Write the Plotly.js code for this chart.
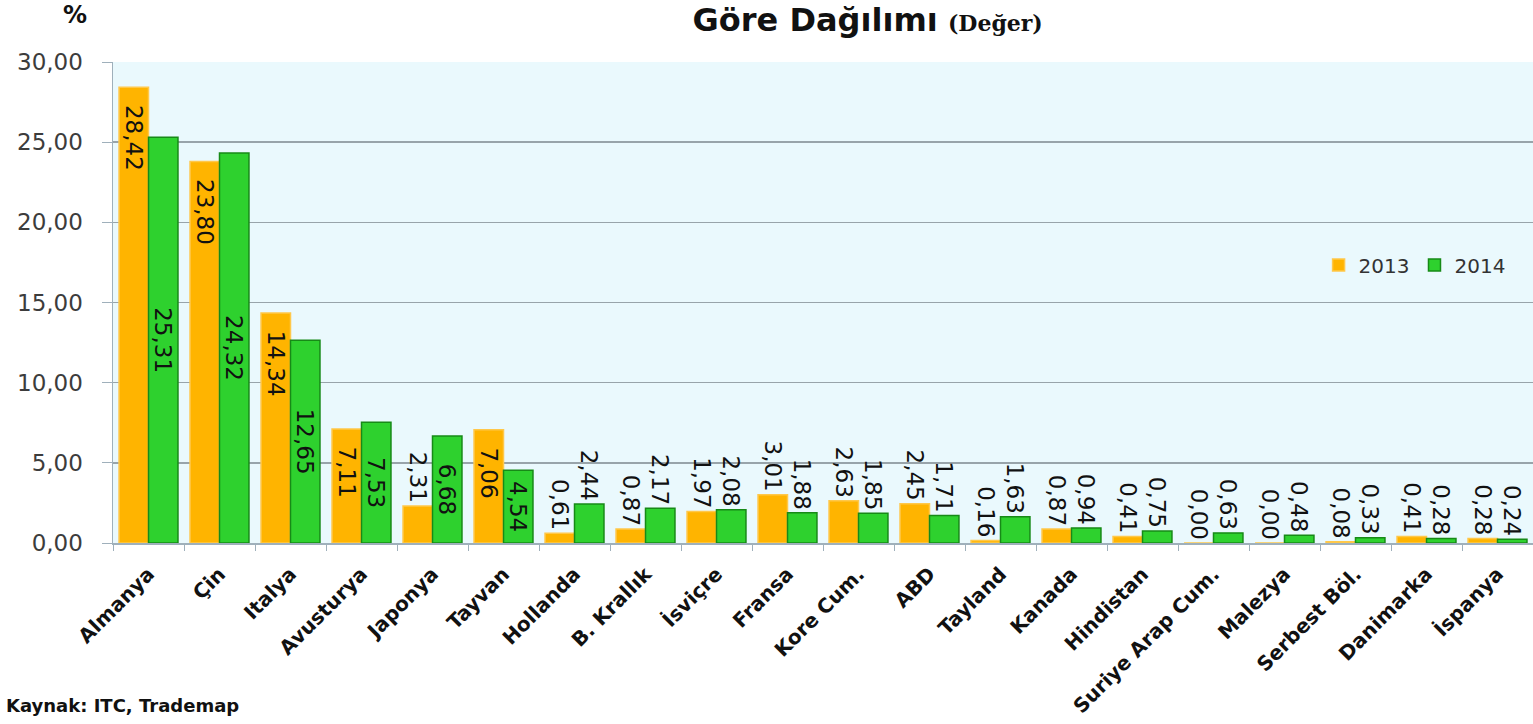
<!DOCTYPE html>
<html>
<head>
<meta charset="utf-8">
<script src="https://cdn.plot.ly/plotly-3.0.1.min.js"></script>
<style>html,body{margin:0;padding:0;background:#fff;}#chart{width:1533px;height:724px;}</style>
</head>
<body>
<div id="chart"></div>
<script>
const categories = ["Almanya","Çin","Italya","Avusturya","Japonya","Tayvan","Hollanda","B. Krallık","İsviçre","Fransa","Kore Cum.","ABD","Tayland","Kanada","Hindistan","Suriye Arap Cum.","Malezya","Serbest Böl.","Danimarka","İspanya"];
const values2013 = [28.42,23.80,14.34,7.11,2.31,7.06,0.61,0.87,1.97,3.01,2.63,2.45,0.16,0.87,0.41,0.00,0.00,0.08,0.41,0.28];
const values2014 = [25.31,24.32,12.65,7.53,6.68,4.54,2.44,2.17,2.08,1.88,1.85,1.71,1.63,0.94,0.75,0.63,0.48,0.33,0.28,0.24];
const seriesNames = ["2013","2014"];
const yTicks = [0,5,10,15,20,25,30];

// label helpers (formatting / placement derived from the values)
const fmt = v => v.toFixed(2).replace(".", ",");
const insideLimit = 4;
const pos = arr => arr.map(v => v >= insideLimit ? "inside" : "outside");
const text2013 = values2013.map(v => (v >= insideLimit ? "\u00a0\u00a0" : "") + fmt(v));
const text2014 = values2014.map(fmt);

const labelFont = {family: "DejaVu Sans, Verdana, sans-serif", size: 23, color: "#111"};

const trace2013 = {
  type: "bar", name: seriesNames[0], x: categories, y: values2013,
  marker: {color: "#FFB400", line: {color: "#FFC84A", width: 1.5}},
  text: text2013, texttemplate: "%{text}", textposition: pos(values2013), insidetextanchor: "end",
  textangle: 90, constraintext: "none", cliponaxis: false,
  textfont: labelFont, insidetextfont: labelFont, outsidetextfont: labelFont,
  hoverinfo: "x+y"
};
const trace2014 = {
  type: "bar", name: seriesNames[1], x: categories, y: values2014,
  marker: {color: "#2ED12E", line: {color: "#178A17", width: 1.5}},
  text: text2014, texttemplate: "%{text}", textposition: pos(values2014), insidetextanchor: "middle",
  textangle: 90, constraintext: "none", cliponaxis: false,
  textfont: labelFont, insidetextfont: labelFont, outsidetextfont: labelFont,
  hoverinfo: "x+y"
};

const layout = {
  width: 1533, height: 724,
  margin: {l: 113, r: 0, t: 62, b: 181},
  paper_bgcolor: "#ffffff",
  plot_bgcolor: "#EAF9FD",
  separators: ",.",
  barmode: "group", bargap: 0.17, bargroupgap: 0,
  showlegend: true,
  legend: {
    orientation: "h", x: 0.849, y: 0.578, xanchor: "left", yanchor: "middle",
    bgcolor: "rgba(0,0,0,0)", font: {family: "DejaVu Sans, Verdana, sans-serif", size: 20, color: "#333"},
    itemwidth: 30, traceorder: "normal"
  },
  title: {
    text: "<b>Göre Dağılımı</b> <span style='font-family:DejaVu Serif, serif;font-size:22px'><b>(Değer)</b></span>",
    x: 0.566, xref: "container", xanchor: "center",
    y: 0.972, yref: "container", yanchor: "middle",
    font: {family: "DejaVu Sans, Tahoma, sans-serif", size: 32, color: "#111"}
  },
  xaxis: {
    type: "category", tickangle: -45,
    tickfont: {family: "DejaVu Sans, Tahoma, sans-serif", size: 20, color: "#111", weight: "bold"},
    showline: true, linecolor: "#9fb0bb", linewidth: 1.5,
    ticks: "outside", tickson: "boundaries", ticklen: 6, tickcolor: "#9fb0bb",
    ticklabelstandoff: 10,
    showgrid: false, fixedrange: true
  },
  yaxis: {
    range: [0, 30], tickvals: yTicks, tickformat: ".2f",
    tickfont: {family: "DejaVu Sans, Verdana, sans-serif", size: 23, color: "#3c3c3c"},
    showline: true, linecolor: "#9fb0bb", linewidth: 1.5,
    ticks: "outside", ticklen: 10, tickcolor: "#9fb0bb",
    ticklabelstandoff: 14,
    showgrid: true, gridcolor: "#98a4aa", gridwidth: 1.5,
    zeroline: false, fixedrange: true
  },
  annotations: [
    {text: "<b>%</b>", xref: "paper", yref: "paper", x: -0.027, y: 1.098, xanchor: "center", yanchor: "middle", showarrow: false,
     font: {family: "DejaVu Sans, Tahoma, sans-serif", size: 24, color: "#111"}},
    {text: "<b>Kaynak: ITC, Trademap</b>", xref: "paper", yref: "paper", x: -0.077, y: -0.337, xanchor: "left", yanchor: "middle", showarrow: false,
     font: {family: "DejaVu Sans, Tahoma, sans-serif", size: 18, color: "#111"}}
  ]
};

Plotly.newPlot("chart", [trace2013, trace2014], layout, {displayModeBar: false, staticPlot: true});
</script>
</body>
</html>
